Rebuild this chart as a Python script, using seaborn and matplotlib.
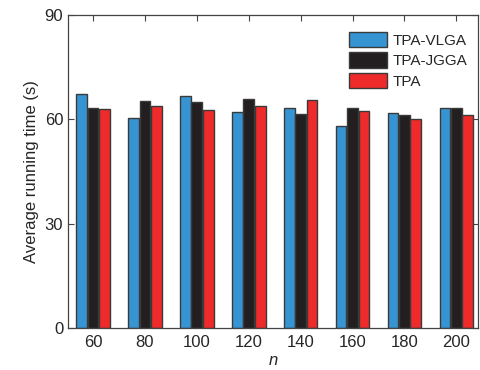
import numpy as np
import pandas as pd
import matplotlib
matplotlib.use('Agg')
import matplotlib.pyplot as plt
import seaborn as sns

## ============================

n_values = ['60', '80', '100', '120', '140', '160', '180', '200']
methods = ['TPA-VLGA', 'TPA-JGGA', 'TPA']
vlga = [67.3, 60.4, 66.7, 62.1, 63.4, 58.1, 61.9, 63.3]
jgga = [63.2, 65.2, 65.1, 66.0, 61.7, 63.2, 61.4, 63.4]
tpa = [63.0, 64.0, 62.6, 63.8, 65.6, 62.4, 60.0, 61.4]
colors = ['#3794d2', '#231f20', '#ee2a2a']

df = pd.DataFrame({'n': n_values * 3,
				'method': sum([[m] * len(n_values) for m in methods], []),
				'time': vlga + jgga + tpa})

## ============================

sns.set_style('ticks')
plt.rcParams['font.family'] = ['Liberation Sans', 'DejaVu Sans']
plt.rcParams['xtick.direction'] = 'in'
plt.rcParams['ytick.direction'] = 'in'

fig = plt.figure(figsize=(4.8, 3.7), dpi=100)
ax = fig.add_axes([0.142, 0.1135, 0.854, 0.8455])
sns.barplot(ax=ax, data=df, x='n', y='time', hue='method', hue_order=methods,
		palette=colors, saturation=1., width=0.66, gap=0.06,
		edgecolor='#3a3a3a', linewidth=1.)
for p in ax.patches:
	p.set_edgecolor('#3a3a3a')

ax.set_ylim(0, 90)
ax.set_xlim(-0.48, 7.42)
ax.set_yticks([0, 30, 60, 90])
ax.tick_params(axis='both', labelsize=12, length=4, color='#444444',
		top=True, right=True, width=0.8)
ax.tick_params(axis='x', pad=5)
ax.set_xlabel('n', fontsize=12, fontstyle='italic', labelpad=2)
ax.set_ylabel('Average running time (s)', fontsize=12, labelpad=4)
for s in ax.spines.values():
	s.set_color('#444444')
	s.set_linewidth(0.9)

ax.legend(loc='upper right', frameon=False, fontsize=11, handlelength=2.5,
		handleheight=1.15, labelspacing=0.3, handletextpad=0.35,
		bbox_to_anchor=(1.0, 0.98), borderaxespad=0.3)

fig.savefig('out.png', dpi=100)
